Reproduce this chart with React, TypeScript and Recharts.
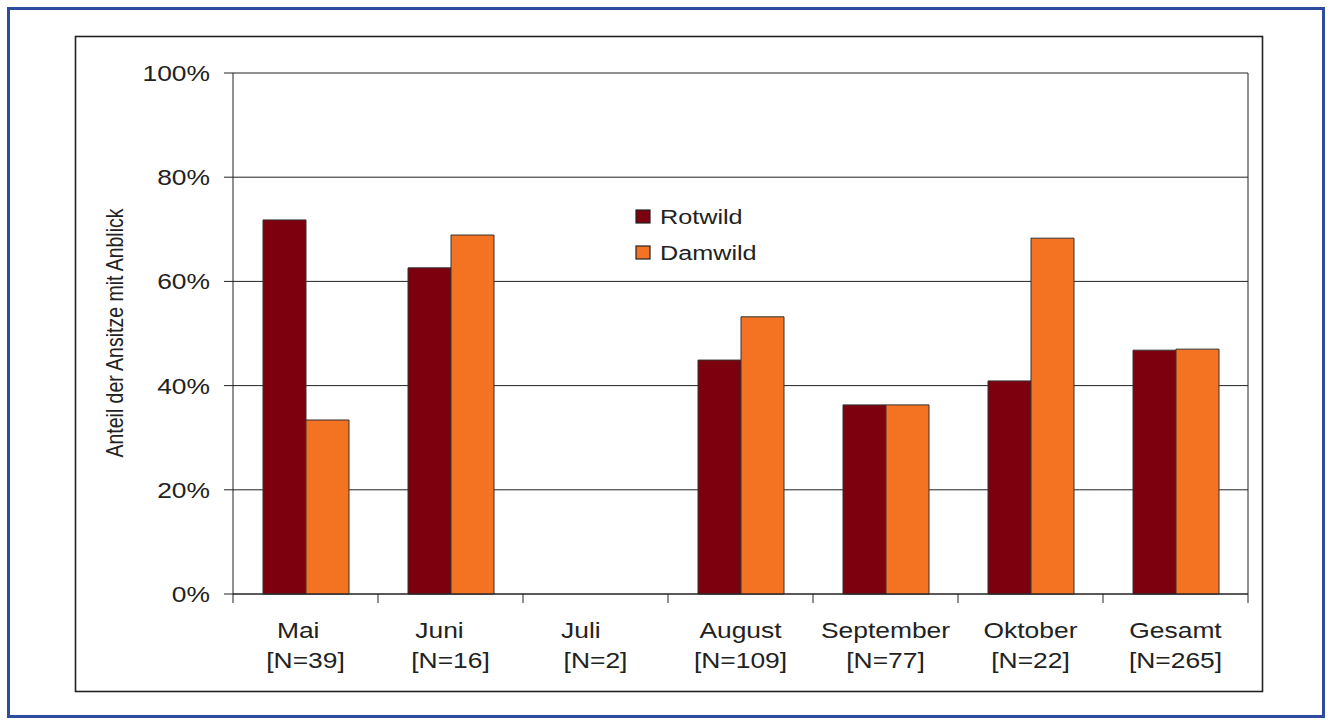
import { Bar, BarChart, CartesianGrid, Legend, XAxis, YAxis } from "recharts";

const months = ["Mai  ", "Juni   ", "Juli    ", "August", "September", "Oktober", "Gesamt"];
const sampleSizes = ["[N=39]", "[N=16]", "[N=2]", "[N=109]", "[N=77]", "[N=22]", "[N=265]"];
const seriesNames = ["Rotwild", "Damwild"];
const rotwild = [71.8, 62.6, null, 44.9, 36.3, 40.9, 46.8];
const damwild = [33.4, 68.9, null, 53.2, 36.3, 68.3, 47.0];
const yTicks = [0, 20, 40, 60, 80, 100];

const data = months.map((m, i) => ({
  month: m,
  n: sampleSizes[i],
  Rotwild: rotwild[i],
  Damwild: damwild[i],
}));

const W = 1330;
const H = 724;
const margin = { top: 73, right: 81, bottom: 100, left: 173 };
const Y_AXIS_W = 60;
const PLOT_W = W - margin.left - margin.right - Y_AXIS_W - 1;
const BAND = PLOT_W / months.length;

const FONT = "'Liberation Sans', Arial, Helvetica, sans-serif";
const INK = "#222";
const SX = 1.2; // the source text is drawn a little wide

function YTick(props: any) {
  const { x, y, payload } = props;
  return (
    <text
      transform={`translate(${x},${y}) scale(${SX},1)`}
      textAnchor="end"
      dy="0.36em"
      fontSize={22}
      fontFamily={FONT}
      fill={INK}
    >
      {`${payload.value}%`}
    </text>
  );
}

function XTick(props: any) {
  const { x, y, payload, index } = props;
  const i = index ?? payload.index ?? 0;
  const last = i === months.length - 1;
  return (
    <g>
      <line x1={x - BAND / 2} x2={x - BAND / 2} y1={y} y2={y + 9} stroke={INK} />
      {last && <line x1={x + BAND / 2} x2={x + BAND / 2} y1={y} y2={y + 9} stroke={INK} />}
      <text
        transform={`translate(${x},${y + 44}) scale(${SX},1)`}
        textAnchor="middle"
        fontSize={22}
        fontFamily={FONT}
        fill={INK}
        style={{ whiteSpace: "pre" }}
      >
        {payload.value}
      </text>
      <text
        transform={`translate(${x},${y + 74}) scale(${SX},1)`}
        textAnchor="middle"
        fontSize={22}
        fontFamily={FONT}
        fill={INK}
      >
        {sampleSizes[i]}
      </text>
    </g>
  );
}

function LegendBox(props: any) {
  const items = [...(props.payload || [])].sort(
    (a: any, b: any) => seriesNames.indexOf(a.value) - seriesNames.indexOf(b.value)
  );
  return (
    <svg width={200} height={80}>
      {items.map((it: any, k: number) => (
        <g key={it.value} transform={`translate(0,${k * 36})`}>
          <rect x={2} y={6} width={14} height={13} fill={it.color} stroke={INK} strokeWidth={1.2} />
          <text
            transform={`translate(26,20) scale(${SX},1)`}
            fontSize={21}
            fontFamily={FONT}
            fill={INK}
          >
            {it.value}
          </text>
        </g>
      ))}
    </svg>
  );
}

export default function App() {
  return (
    <div style={{ position: "absolute", left: 0, top: 0, width: W, height: H, background: "#fff" }}>
      <svg width={W} height={H} style={{ position: "absolute", left: 0, top: 0 }}>
        <rect x={8.5} y={8.5} width={1315} height={708} fill="none" stroke="#2E4C9E" strokeWidth={3} />
        <rect x={75.5} y={36.5} width={1187} height={655} fill="none" stroke={INK} strokeWidth={1.6} />
        <text
          transform={`translate(123,333) scale(${SX},1) rotate(-90)`}
          textAnchor="middle"
          fontSize={19.5}
          fontFamily={FONT}
          fill={INK}
        >
          Anteil der Ansitze mit Anblick
        </text>
      </svg>
      <div style={{ position: "absolute", left: 0, top: 0 }}>
        <BarChart
          width={W}
          height={H}
          data={data}
          margin={margin}
          barCategoryGap={30}
          barGap={0}
        >
          <CartesianGrid vertical={false} stroke={INK} strokeWidth={1} />
          <XAxis
            dataKey="month"
            height={30}
            tickLine={false}
            tickSize={0}
            tickMargin={0}
            axisLine={{ stroke: INK }}
            tick={<XTick />}
            interval={0}
          />
          <YAxis
            width={Y_AXIS_W}
            domain={[0, 100]}
            ticks={yTicks}
            interval={0}
            tickSize={9}
            tickMargin={14}
            tickLine={{ stroke: INK }}
            axisLine={{ stroke: INK }}
            tick={<YTick />}
          />
          <YAxis
            yAxisId="right"
            orientation="right"
            width={1}
            domain={[0, 100]}
            tick={false}
            tickLine={false}
            axisLine={{ stroke: INK }}
          />
          <Legend
            layout="vertical"
            verticalAlign="middle"
            align="center"
            content={<LegendBox />}
            wrapperStyle={{ position: "absolute", left: 634, top: 204, width: 200 }}
          />
          <Bar dataKey="Rotwild" fill="#7C000E" stroke="#333" strokeWidth={1} isAnimationActive={false} />
          <Bar dataKey="Damwild" fill="#F47322" stroke="#333" strokeWidth={1} isAnimationActive={false} />
        </BarChart>
      </div>
    </div>
  );
}
